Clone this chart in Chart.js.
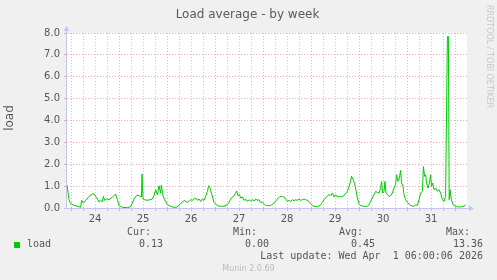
<!DOCTYPE html>
<html><head><meta charset="utf-8">
<script src="https://cdn.jsdelivr.net/npm/chart.js@4"></script>
<style>
html,body{margin:0;padding:0;background:#f0f0f0;}
#wrap{position:relative;width:497px;height:280px;overflow:hidden;font-family:'DejaVu Sans';}
canvas{position:absolute;left:0;top:0;}
.t{position:absolute;white-space:pre;line-height:1;}
.mono{font-family:'DejaVu Sans Mono';font-size:10px;color:#555;}
.r{text-align:right;}
</style></head>
<body><div id="wrap">
<canvas id="c" width="497" height="280"></canvas>
<div class="t" style="left:-1px;width:497px;text-align:center;top:8px;font-size:12px;color:#5a5a5a">Load average - by week</div>
<div class="t" style="left:-21px;width:60px;text-align:center;top:112px;font-size:12px;color:#555;transform:rotate(-90deg)">load</div>
<div class="t" style="left:493px;top:5px;font-size:8px;color:#c8c8c8;transform-origin:0 0;transform:rotate(90deg)">RRDTOOL / TOBI OETIKER</div>
<div style="position:absolute;left:14px;top:242px;width:6px;height:6px;background:#00cc00"></div>
<div class="t mono" style="left:27px;top:239px">load</div>
<div class="t mono r" style="right:346px;top:227px">Cur:</div>
<div class="t mono r" style="right:334px;top:239px">0.13</div>
<div class="t mono r" style="right:240px;top:227px">Min:</div>
<div class="t mono r" style="right:228px;top:239px">0.00</div>
<div class="t mono r" style="right:134px;top:227px">Avg:</div>
<div class="t mono r" style="right:122px;top:239px">0.45</div>
<div class="t mono r" style="right:27px;top:227px">Max:</div>
<div class="t mono r" style="right:14px;top:239px">13.36</div>
<div class="t mono r" style="right:14px;top:251px">Last update: Wed Apr  1 06:00:06 2026</div>
<div class="t" style="left:0;width:497px;text-align:center;top:265px;font-size:8px;color:#bbb">Munin 2.0.69</div>
</div>
<script>
// hours since Mar 23 22:00 (graph start), 2 px per hour
const hours = [
 0,1,1.8,3.5,6,6.8,7.3,8.2,9.3,11,
 12.7,13.5,14.3,15.2,16,16.8,17.7,18.2,18.8,19.8,
 21,22.7,23.8,24.3,25.2,26,27.7,30.2,31.8,32.7,
 33.5,34.3,35.5,36.5,37.2,37.5,38,38.8,40.2,41.5,
 42.7,43.5,44.3,45.2,46,46.8,47.2,48,48.8,49.5,
 50.2,51.8,53.5,55.2,56,56.8,57.7,58.5,59.3,60.2,
 61,61.8,62.7,63.5,64.3,65.2,66,66.8,67.7,68.5,
 69.3,70.2,70.8,71.5,72.2,72.8,73.5,74.3,75.2,76.8,
 78.5,80.2,81,81.8,82.7,83.5,84.3,84.8,85.5,86.2,
 86.8,87.7,88.5,89.3,90.2,91,91.8,92.7,93.5,94.3,
 95.2,96,96.8,97.7,98.5,99.3,100.2,101.8,103.5,105.2,
 106.5,107.7,108.5,109.3,110.2,111,111.8,112.7,113.5,114.3,
 115.2,116,116.8,117.7,118.5,119.3,120.2,121,121.8,122.7,
 123.5,125.2,126,126.8,127.7,128.5,129.3,130.2,131,131.8,
 132.7,133.5,134.3,135.2,136,136.8,137.7,138.5,139.3,140.2,
 141,141.8,142.3,143,143.8,144.5,145.2,146,146.8,148.5,
 150.2,151,151.8,152.7,153.5,154.3,155.2,156,156.8,157.3,
 157.8,158.5,159,159.5,160.2,161,161.8,162.7,163.5,164.3,
 164.8,165.5,166.2,166.8,167.3,168,168.5,169.3,170.2,171.8,
 173.5,174.3,175.2,176,176.8,177.7,178.2,178.8,179.3,179.8,
 180.5,181.2,181.8,182.3,182.8,183.5,184.3,185.2,186,186.8,
 187.7,188.5,189.3,190.2,190.7,191.1,191.5,192.2,192.7,193.5,
 195.2,196.8,198.5,199.3
];
const load = [
 1.05,0.38,0.2,0.12,0.06,0.03,0.35,0.23,0.35,0.53,
 0.64,0.65,0.53,0.41,0.27,0.35,0.29,0.53,0.35,0.41,
 0.38,0.5,0.58,0.64,0.38,0.11,0.03,0.02,0.06,0.23,
 0.41,0.53,0.59,0.53,0.5,1.56,0.41,0.38,0.35,0.38,
 0.41,0.56,0.84,0.61,1.02,0.68,1.04,0.56,0.38,0.27,
 0.15,0.08,0.03,0.05,0.15,0.2,0.26,0.35,0.3,0.26,
 0.3,0.38,0.35,0.41,0.46,0.35,0.41,0.3,0.41,0.35,
 0.53,0.76,1.02,0.91,0.68,0.5,0.26,0.18,0.11,0.08,
 0.08,0.15,0.26,0.41,0.5,0.56,0.68,0.78,0.56,0.62,
 0.46,0.5,0.35,0.41,0.3,0.38,0.32,0.38,0.32,0.41,
 0.35,0.38,0.26,0.26,0.2,0.12,0.11,0.11,0.23,0.41,
 0.53,0.53,0.5,0.41,0.3,0.35,0.3,0.38,0.33,0.38,
 0.35,0.41,0.35,0.38,0.41,0.38,0.35,0.3,0.2,0.11,
 0.08,0.05,0.08,0.15,0.26,0.38,0.46,0.56,0.61,0.56,
 0.68,0.5,0.61,0.5,0.53,0.5,0.53,0.56,0.68,0.76,
 0.99,1.22,1.45,1.32,1.11,0.81,0.46,0.2,0.11,0.08,
 0.08,0.15,0.3,0.46,0.61,0.76,0.71,0.68,0.91,1.22,
 0.68,0.76,1.22,0.68,0.61,0.53,0.56,0.68,0.91,1.07,
 1.52,1.22,1.37,1.72,1.14,0.99,0.61,0.38,0.26,0.11,
 0.08,0.15,0.11,0.38,0.68,0.76,1.9,1.45,1.52,1.14,
 0.91,1.14,1.52,0.99,1.14,0.84,0.91,0.76,0.84,0.68,
 0.38,0.3,0.53,7.84,7.84,0.38,0.84,0.38,0.23,0.11,
 0.05,0.05,0.08,0.14
];
const dayLabels = ['24','25','26','27','28','29','30','31'];
const firstMidnight = 2;   // hour of Mar 24 00:00
const firstNoon = 14;      // hour of Mar 24 12:00
const yTickValues = [0,1,2,3,4,5,6,7,8];

const MAJOR = 'rgba(222,110,110,0.55)';
const MINOR = 'rgba(150,150,150,0.5)';
const AXIS = '#c4c4f0';

const points = hours.map((h, i) => ({x: h, y: load[i]}));

const bgAndAxes = {
  id: 'bgAndAxes',
  beforeDatasetsDraw(chart) {},
  beforeDraw(chart) {
    const {ctx, chartArea: a} = chart;
    ctx.save();
    ctx.fillStyle = '#ffffff';
    ctx.fillRect(a.left, a.top, a.right - a.left, a.bottom - a.top);
    ctx.restore();
  },
  afterDraw(chart) {
    const {ctx, chartArea: a} = chart;
    ctx.save();
    ctx.strokeStyle = AXIS;
    ctx.fillStyle = AXIS;
    ctx.lineWidth = 1;
    const x0 = Math.round(a.left) - 0.5, y0 = Math.round(a.bottom) + 0.5;
    ctx.beginPath();
    ctx.moveTo(x0, y0); ctx.lineTo(x0, a.top - 3);
    ctx.moveTo(a.left - 3, y0); ctx.lineTo(a.right + 3, y0);
    ctx.stroke();
    ctx.beginPath();
    ctx.moveTo(x0 - 3, a.top - 2); ctx.lineTo(x0 + 3, a.top - 2); ctx.lineTo(x0, a.top - 7); ctx.closePath();
    ctx.fill();
    ctx.beginPath();
    ctx.moveTo(a.right + 2, y0 - 3); ctx.lineTo(a.right + 2, y0 + 3); ctx.lineTo(a.right + 7, y0); ctx.closePath();
    ctx.fill();
    ctx.restore();
  }
};

Chart.defaults.font.family = 'DejaVu Sans';
new Chart(document.getElementById('c'), {
  type: 'line',
  data: { datasets: [{ data: points, borderColor: '#00cc00', borderWidth: 1, pointRadius: 0, tension: 0, fill: false }] },
  options: {
    responsive: false, animation: false, devicePixelRatio: 1,
    layout: { padding: { top: 33, right: 30, bottom: 52, left: 0 } },
    plugins: { legend: { display: false }, tooltip: { enabled: false } },
    scales: {
      x: {
        type: 'linear', min: 0, max: 200,
        afterBuildTicks: s => { const t = []; for (let h = firstMidnight; h < 200; h += 6) t.push({value: h}); s.ticks = t; },
        afterFit: s => { s.height = 20; s.paddingLeft = 0; s.paddingRight = 0; },
        grid: {
          color: c => ((c.tick.value - firstMidnight) % 24 === 0 ? MAJOR : MINOR),
          tickColor: c => ((c.tick.value - firstMidnight) % 24 === 0 ? MAJOR : MINOR),
          tickLength: 3, lineWidth: 1
        },
        border: { display: false, dash: [1, 2] },
        ticks: {
          autoSkip: false, maxRotation: 0, padding: 2, color: '#555', font: { size: 10 },
          callback: v => { const i = (v - firstNoon) / 24; return (Number.isInteger(i) && dayLabels[i]) ? dayLabels[i] : ''; }
        }
      },
      y: {
        min: 0, max: 8,
        afterFit: s => { s.width = 67; s.paddingTop = 0; s.paddingBottom = 0; },
        grid: {
          color: c => (Number.isInteger(c.tick.value) ? MAJOR : MINOR),
          tickColor: c => (Number.isInteger(c.tick.value) ? MAJOR : MINOR),
          tickLength: 3, lineWidth: 1
        },
        border: { display: false, dash: [1, 2] },
        ticks: {
          stepSize: 0.5, padding: 4, color: '#555', font: { size: 10 },
          callback: v => (yTickValues.includes(v) ? v.toFixed(1) : '')
        }
      }
    }
  },
  plugins: [bgAndAxes]
});
</script>
</body></html>
